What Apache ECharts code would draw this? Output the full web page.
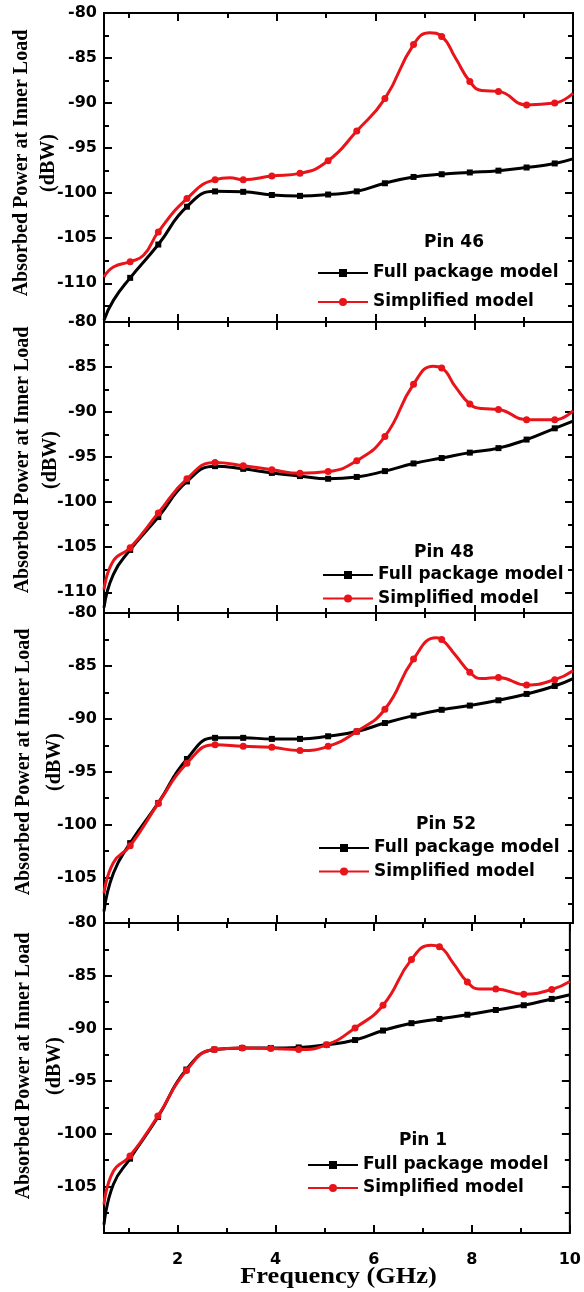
<!DOCTYPE html>
<html><head><meta charset="utf-8">
<script src="https://cdn.jsdelivr.net/npm/echarts@6/dist/echarts.min.js"></script>
<style>html,body{margin:0;padding:0;background:#fff}#c{width:584px;height:1292px}</style>
</head><body><div id="c"></div>
<script>
// ---------- DATA ----------
const markerFreqs = [1.03, 1.60, 2.18, 2.75, 3.32, 3.90, 4.47, 5.04, 5.62, 6.19, 6.77, 7.34, 7.91, 8.49, 9.06, 9.63];
const freqFull = [0.5, 0.69, 1.03, 1.60, 2.18, 2.75, 3.32, 3.90, 4.47, 5.04, 5.62, 6.19, 6.77, 7.34, 7.91, 8.49, 9.06, 9.63, 10];

const pin46Full = [-114.1, -111.9, -109.4, -105.7, -101.5, -99.8, -99.85, -100.2, -100.3, -100.15, -99.8, -98.9, -98.2, -97.9, -97.7, -97.5, -97.15, -96.7, -96.2];
const pin46SimpFreq = [0.5, 0.69, 1.03, 1.30, 1.60, 2.18, 2.75, 3.05, 3.32, 3.90, 4.47, 5.04, 5.62, 6.19, 6.77, 7.10, 7.34, 7.62, 7.91, 8.15, 8.49, 9.06, 9.63, 10];
const pin46Simp = [-109.3, -108.2, -107.6, -106.9, -104.3, -100.6, -98.5, -98.3, -98.5, -98.1, -97.8, -96.4, -93.1, -89.5, -83.5, -82.2, -82.6, -85.0, -87.6, -88.6, -88.7, -90.2, -90.0, -88.9];

const pin48Full = [-111.7, -108.0, -105.3, -101.65, -97.7, -96.0, -96.3, -96.75, -97.1, -97.4, -97.2, -96.55, -95.7, -95.1, -94.5, -94.0, -93.05, -91.8, -91.0];
const pin48SimpFreq = [0.5, 0.69, 1.03, 1.60, 2.18, 2.75, 3.32, 3.90, 4.47, 5.04, 5.62, 6.19, 6.77, 7.17, 7.34, 7.62, 7.91, 8.15, 8.49, 9.06, 9.63, 10];
const pin48Simp = [-109.7, -106.5, -105.05, -101.2, -97.4, -95.6, -95.95, -96.4, -96.8, -96.6, -95.4, -92.7, -86.9, -84.9, -85.1, -87.2, -89.1, -89.6, -89.7, -90.85, -90.85, -89.85];

const pin52Full = [-108.2, -104.6, -101.75, -97.95, -93.8, -91.8, -91.8, -91.9, -91.9, -91.65, -91.2, -90.4, -89.7, -89.15, -88.75, -88.25, -87.65, -86.9, -86.2];
const pin52SimpFreq = [0.5, 0.69, 1.03, 1.60, 2.18, 2.75, 3.32, 3.90, 4.47, 5.04, 5.62, 6.19, 6.77, 7.23, 7.34, 7.62, 7.91, 8.15, 8.49, 9.06, 9.63, 10];
const pin52Simp = [-106.5, -103.6, -102.0, -98.0, -94.2, -92.45, -92.6, -92.7, -93.0, -92.6, -91.2, -89.1, -84.35, -82.35, -82.5, -84.0, -85.6, -86.2, -86.1, -86.8, -86.3, -85.45];

const pin1Full = [-108.6, -104.8, -102.35, -98.4, -93.9, -92.0, -91.85, -91.85, -91.8, -91.55, -91.1, -90.2, -89.5, -89.1, -88.7, -88.25, -87.8, -87.2, -86.8];
const pin1SimpFreq = [0.5, 0.69, 1.03, 1.60, 2.18, 2.75, 3.32, 3.90, 4.47, 5.04, 5.62, 6.19, 6.77, 7.17, 7.34, 7.62, 7.91, 8.15, 8.49, 9.06, 9.63, 10];
const pin1Simp = [-106.7, -103.55, -102.1, -98.3, -94.0, -92.0, -91.85, -91.9, -92.0, -91.55, -89.95, -87.8, -83.45, -82.1, -82.25, -83.8, -85.6, -86.25, -86.25, -86.75, -86.3, -85.55];

const pinNames = ['Pin 46', 'Pin 48', 'Pin 52', 'Pin 1'];
const seriesNames = ['Full package model', 'Simplified model'];
const yMins = [-114.3, -112.3, -109.3, -109.4];
const yMax = -80;
const yTickLabels = [
  [-80, -85, -90, -95, -100, -105, -110],
  [-80, -85, -90, -95, -100, -105, -110],
  [-80, -85, -90, -95, -100, -105],
  [-80, -85, -90, -95, -100, -105]
];
const xTickLabels = [2, 4, 6, 8, 10];
const xMinorTicks = [1, 3, 5, 7, 9];
const yNameLine1 = 'Absorbed Power at Inner Load';
const yNameLine2 = '(dBW)';
const xName = 'Frequency (GHz)';

const fullData = [pin46Full, pin48Full, pin52Full, pin1Full];
const simpFreqs = [pin46SimpFreq, pin48SimpFreq, pin52SimpFreq, pin1SimpFreq];
const simpData = [pin46Simp, pin48Simp, pin52Simp, pin1Simp];

// ---------- LAYOUT ----------
const tops = [13, 322, 613, 923];
const heights = [309, 291, 310, 310];
const GL = 104, GW = 469;
const legLeft = [317, 322, 318, 307];
const legTop = [264, 566, 839, 1156];
const legGap = [11, 5.5, 5.5, 5];
const pinPos = [[454, 243], [444, 553], [446, 825], [423, 1141]];
const nameCenters = [163, 460, 762, 1066];
const nameX1 = [22, 23, 24, 24];
const nameX2 = [49, 51, 55, 55];
const RED = '#e8141a';
const TF = '"DejaVu Sans"';
const SERIF = '"Liberation Serif"';

function isMarker(f) { return markerFreqs.some(m => Math.abs(m - f) < 1e-6); }
function buildData(freqs, vals, sym) {
  return freqs.map((f, k) => ({ value: [f, vals[k]], symbol: isMarker(f) ? sym : 'none' }));
}
function minorYTicks(min) {
  const out = [];
  for (let v = -82.5; v > min; v -= 5) out.push(v);
  return out;
}

const grid = [], xAxis = [], yAxis = [], series = [], legend = [], graphic = [];
for (let i = 0; i < 4; i++) {
  grid.push({ left: GL, top: tops[i], width: GW, height: heights[i], show: true,
    borderColor: '#000', borderWidth: 2, backgroundColor: 'transparent' });
  const tickStyle = { color: '#000', width: 2 };
  const xb = { gridIndex: i, type: 'value', min: 0.5, max: 10, splitLine: { show: false }, axisLine: { show: false } };
  const xMain = xAxis.length;
  ['bottom', 'top'].forEach(pos => {
    xAxis.push(Object.assign({}, xb, { position: pos,
      axisTick: { show: true, inside: true, length: 8, lineStyle: tickStyle, customValues: xTickLabels },
      axisLabel: { show: i === 3 && pos === 'bottom', customValues: xTickLabels, margin: 19, color: '#000',
        fontFamily: 'DejaVu Sans', fontWeight: 'bold', fontSize: 16 } }));
    xAxis.push(Object.assign({}, xb, { position: pos,
      axisTick: { show: true, inside: true, length: 5, lineStyle: tickStyle, customValues: xMinorTicks },
      axisLabel: { show: false } }));
  });
  const yb = { gridIndex: i, type: 'value', min: yMins[i], max: yMax, splitLine: { show: false }, axisLine: { show: false } };
  const yMain = yAxis.length;
  ['left', 'right'].forEach(pos => {
    yAxis.push(Object.assign({}, yb, { position: pos,
      axisTick: { show: true, inside: true, length: 8, lineStyle: tickStyle, customValues: yTickLabels[i] },
      axisLabel: { show: pos === 'left', customValues: yTickLabels[i], margin: 7, color: '#000',
        fontFamily: 'DejaVu Sans', fontWeight: 'bold', fontSize: 16 } }));
    yAxis.push(Object.assign({}, yb, { position: pos,
      axisTick: { show: true, inside: true, length: 5, lineStyle: tickStyle, customValues: minorYTicks(yMins[i]) },
      axisLabel: { show: false } }));
  });
  series.push({ name: seriesNames[0], type: 'line', xAxisIndex: xMain, yAxisIndex: yMain,
    data: buildData(freqFull, fullData[i], 'rect'), symbol: 'rect', symbolSize: 6,
    smooth: 0.5, color: '#000',
    lineStyle: { color: '#000', width: 3 }, itemStyle: { color: '#000' }, z: 3 });
  series.push({ name: seriesNames[1], type: 'line', xAxisIndex: xMain, yAxisIndex: yMain,
    data: buildData(simpFreqs[i], simpData[i], 'circle'), symbol: 'circle', symbolSize: 7,
    smooth: 0.5, color: RED,
    lineStyle: { color: RED, width: 3 }, itemStyle: { color: RED }, z: 4 });
  legend.push({ orient: 'vertical', left: legLeft[i], top: legTop[i], padding: 0,
    itemWidth: 50, itemHeight: 10, itemGap: legGap[i], selectedMode: false,
    data: seriesNames,
    textStyle: { fontFamily: 'DejaVu Sans', fontWeight: 'bold', fontSize: 17, color: '#000', lineHeight: 18 } });
  graphic.push({ type: 'text', x: pinPos[i][0], y: pinPos[i][1],
    style: { text: pinNames[i], textAlign: 'center', textVerticalAlign: 'middle',
      font: 'bold 17px ' + TF, fill: '#000' } });
  graphic.push({ type: 'text', x: nameX1[i], y: nameCenters[i], rotation: Math.PI / 2,
    style: { text: yNameLine1, textAlign: 'center', textVerticalAlign: 'middle',
      font: 'bold 20px ' + SERIF, fill: '#000' } });
  graphic.push({ type: 'text', x: nameX2[i], y: nameCenters[i], rotation: Math.PI / 2,
    style: { text: yNameLine2, textAlign: 'center', textVerticalAlign: 'middle',
      font: 'bold 20px ' + SERIF, fill: '#000' } });
}
graphic.push({ type: 'text', x: 338.5, y: 1277, scaleX: 1.1,
  style: { text: xName, textAlign: 'center', textVerticalAlign: 'middle',
    font: 'bold 24px ' + SERIF, fill: '#000' } });

const chart = echarts.init(document.getElementById('c'));
chart.setOption({ backgroundColor: '#fff', animation: false, grid, xAxis, yAxis, series, legend, graphic });
</script></body></html>
